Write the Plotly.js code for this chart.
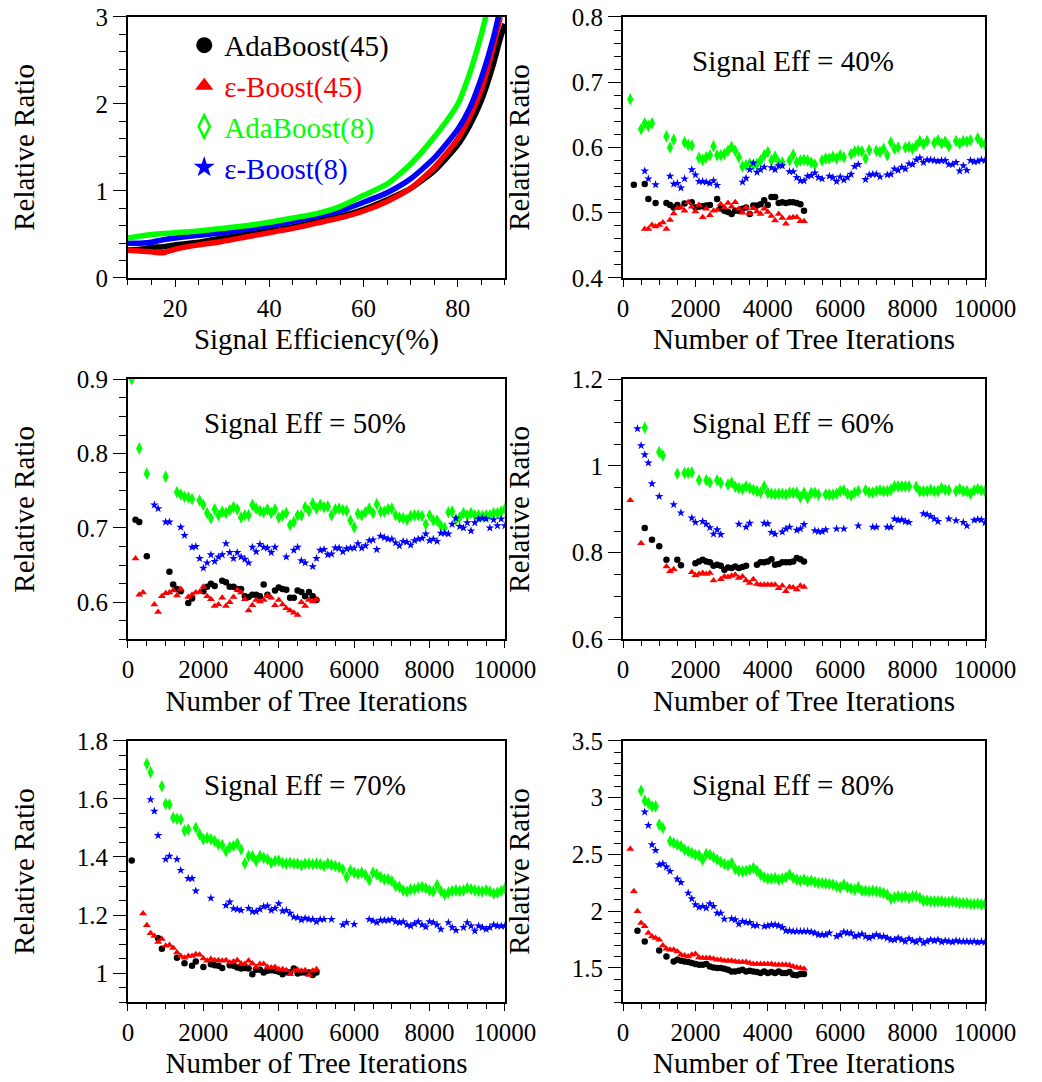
<!DOCTYPE html>
<html>
<head>
<meta charset="utf-8">
<script src="https://cdn.plot.ly/plotly-3.0.1.min.js"></script>
<style>html,body{margin:0;padding:0;background:#fff;}#chart{width:1042px;height:1082px;}</style>
</head>
<body>
<div id="chart"></div>
<script>
// ---------- series names ----------
const seriesNames = ['AdaBoost(45)', 'ε-Boost(45)', 'AdaBoost(8)', 'ε-Boost(8)'];
const panelLabels = ['Signal Eff = 40%', 'Signal Eff = 50%', 'Signal Eff = 60%', 'Signal Eff = 70%', 'Signal Eff = 80%'];

// ---------- panel 1: relative ratio vs signal efficiency ----------
const p1_ada45_x = [10,12.5,15,17.5,20,25,30,35,40,45,50,55,60,65,70,75,80,82.5,85,87.5,89,90];
const p1_ada45_y = [0.32,0.33,0.35,0.36,0.38,0.41,0.46,0.50,0.54,0.59,0.65,0.71,0.79,0.90,1.03,1.23,1.53,1.75,2.04,2.45,2.75,2.92];
const p1_eps45_x = [10,12.5,15,17.5,20,25,30,35,40,45,50,55,60,65,70,75,80,82.5,85,87.5,89];
const p1_eps45_y = [0.32,0.31,0.30,0.29,0.33,0.38,0.42,0.47,0.52,0.57,0.63,0.69,0.77,0.88,1.03,1.27,1.60,1.85,2.17,2.65,3.0];
const p1_ada8_x = [10,12.5,15,17.5,20,25,30,35,40,45,50,55,60,65,70,75,80,82.5,85,86];
const p1_ada8_y = [0.46,0.48,0.50,0.51,0.52,0.54,0.57,0.60,0.64,0.69,0.74,0.82,0.95,1.08,1.31,1.62,2.0,2.35,2.8,3.02];
const p1_eps8_x = [10,12.5,15,17.5,20,25,30,35,40,45,50,55,60,65,70,75,80,82.5,85,87.5,88.6];
const p1_eps8_y = [0.40,0.40,0.41,0.44,0.46,0.49,0.52,0.56,0.60,0.65,0.71,0.77,0.87,0.98,1.14,1.38,1.71,1.95,2.30,2.75,3.0];

// ---------- panel 2: signal eff = 40% ----------
const p2_ada45_x = [300,600,700,900,1200,1300,1400,1500,1700,1900,2000,2100,2200,2300,2400,2600,2700,2800,2900,3000,3100,3200,3300,3400,3500,3600,3700,3800,3900,4000,4100,4200,4300,4400,4500,4600,4700,4800,4900,5000];
const p2_ada45_y = [0.543,0.544,0.521,0.515,0.515,0.512,0.508,0.512,0.514,0.516,0.508,0.509,0.510,0.511,0.512,0.521,0.507,0.503,0.501,0.498,0.503,0.503,0.506,0.508,0.498,0.511,0.511,0.513,0.519,0.512,0.524,0.524,0.515,0.516,0.515,0.516,0.516,0.515,0.513,0.503];
const p2_eps45_x = [600,700,800,900,1000,1100,1200,1300,1400,1500,1600,1700,1800,1900,2000,2100,2200,2300,2400,2500,2600,2700,2800,2900,3000,3100,3200,3300,3400,3500,3600,3700,3800,3900,4000,4100,4200,4300,4400,4500,4600,4700,4800,4900,5000];
const p2_eps45_y = [0.475,0.475,0.481,0.479,0.481,0.485,0.475,0.489,0.499,0.507,0.508,0.503,0.516,0.509,0.502,0.512,0.493,0.506,0.496,0.503,0.504,0.513,0.508,0.515,0.509,0.516,0.506,0.500,0.508,0.499,0.507,0.502,0.498,0.506,0.501,0.495,0.488,0.498,0.492,0.483,0.492,0.493,0.493,0.487,0.487];
const p2_ada8_x = [200,500,600,700,800,1200,1300,1400,1700,1800,1900,2100,2200,2300,2400,2500,2600,2700,2800,2900,3000,3100,3200,3300,3400,3500,3600,3700,3800,3900,4000,4100,4200,4300,4400,4600,4700,4800,4900,5000,5100,5200,5300,5500,5600,5700,5800,5900,6000,6100,6300,6400,6500,6600,6700,6800,7000,7100,7200,7300,7400,7500,7600,7800,7900,8000,8100,8200,8300,8400,8600,8700,8800,8900,9000,9200,9300,9400,9500,9600,9800,9900,10000];
const p2_ada8_y = [0.674,0.628,0.637,0.633,0.637,0.617,0.600,0.612,0.608,0.604,0.603,0.584,0.581,0.585,0.588,0.602,0.588,0.588,0.590,0.595,0.601,0.595,0.585,0.571,0.573,0.575,0.573,0.575,0.580,0.588,0.593,0.580,0.586,0.577,0.577,0.580,0.589,0.577,0.580,0.581,0.580,0.577,0.574,0.580,0.583,0.583,0.586,0.583,0.588,0.585,0.590,0.594,0.595,0.594,0.583,0.596,0.595,0.593,0.598,0.588,0.608,0.598,0.600,0.600,0.601,0.598,0.603,0.610,0.605,0.610,0.607,0.611,0.606,0.609,0.602,0.610,0.606,0.610,0.609,0.611,0.614,0.607,0.605];
const p2_eps8_x = [600,700,900,1300,1400,1500,1600,1700,1900,2000,2100,2200,2300,2400,2500,2600,3300,3400,3500,3600,3700,3800,3900,4100,4200,4300,4400,4600,4700,4800,4900,5000,5100,5200,5300,5400,5500,5700,5800,5900,6000,6100,6200,6300,6400,6500,6700,6800,6900,7000,7100,7300,7400,7500,7600,7700,7800,7900,8000,8100,8200,8300,8400,8500,8600,8700,8800,8900,9000,9100,9200,9300,9400,9500,9600,9700,9800,9900,10000];
const p2_eps8_y = [0.564,0.552,0.543,0.556,0.544,0.545,0.538,0.552,0.566,0.558,0.548,0.548,0.547,0.545,0.549,0.542,0.547,0.553,0.566,0.576,0.562,0.566,0.570,0.569,0.566,0.572,0.572,0.563,0.563,0.554,0.549,0.549,0.556,0.557,0.561,0.554,0.552,0.556,0.554,0.548,0.555,0.550,0.554,0.559,0.571,0.574,0.551,0.558,0.559,0.559,0.555,0.558,0.559,0.567,0.565,0.570,0.567,0.575,0.574,0.581,0.584,0.577,0.581,0.581,0.580,0.579,0.580,0.580,0.574,0.574,0.577,0.564,0.572,0.565,0.580,0.578,0.579,0.581,0.580];

// ---------- panel 3: signal eff = 50% ----------
const p3_ada45_x = [200,300,500,1100,1200,1300,1400,1600,1700,2000,2100,2200,2300,2500,2600,2700,2800,2900,3000,3100,3200,3300,3400,3500,3600,3700,3900,4000,4100,4200,4300,4400,4500,4600,4700,4800,4900,5000];
const p3_ada45_y = [0.711,0.708,0.662,0.641,0.624,0.618,0.615,0.599,0.605,0.615,0.621,0.625,0.622,0.629,0.627,0.621,0.621,0.618,0.618,0.608,0.607,0.610,0.610,0.608,0.624,0.610,0.616,0.620,0.618,0.617,0.606,0.606,0.616,0.614,0.608,0.614,0.608,0.603];
const p3_eps45_x = [200,300,400,700,800,900,1000,1100,1200,1300,1400,1600,1700,1800,1900,2000,2100,2200,2300,2400,2500,2600,2700,2800,2900,3000,3100,3200,3300,3400,3500,3600,3700,3800,3900,4000,4100,4200,4300,4400,4500,4600,4700,4800,4900,5000];
const p3_eps45_y = [0.659,0.610,0.613,0.597,0.587,0.608,0.612,0.613,0.616,0.609,0.618,0.607,0.610,0.613,0.614,0.621,0.608,0.604,0.595,0.597,0.606,0.595,0.600,0.607,0.617,0.613,0.604,0.589,0.596,0.603,0.601,0.603,0.609,0.606,0.596,0.603,0.597,0.592,0.589,0.586,0.583,0.600,0.595,0.603,0.601,0.604];
const p3_ada8_x = [100,300,500,1000,1300,1400,1500,1600,1700,1900,2000,2100,2200,2300,2400,2500,2600,2700,2800,2900,3000,3100,3200,3300,3400,3500,3600,3700,3800,3900,4000,4100,4200,4300,4400,4500,4600,4700,4800,4900,5000,5100,5200,5300,5400,5500,5600,5700,5800,5900,6000,6100,6200,6300,6400,6500,6600,6700,6800,6900,7000,7100,7200,7300,7400,7500,7600,7700,7800,7900,8000,8100,8200,8300,8400,8500,8600,8700,8800,8900,9000,9100,9200,9300,9400,9500,9600,9700,9800,9900,10000];
const p3_ada8_y = [0.900,0.807,0.773,0.769,0.748,0.745,0.742,0.741,0.739,0.737,0.731,0.720,0.713,0.725,0.717,0.722,0.720,0.724,0.728,0.725,0.714,0.717,0.717,0.731,0.726,0.723,0.721,0.725,0.720,0.725,0.714,0.717,0.720,0.704,0.708,0.717,0.717,0.728,0.723,0.733,0.726,0.731,0.728,0.729,0.717,0.725,0.726,0.724,0.723,0.710,0.701,0.719,0.717,0.721,0.726,0.720,0.732,0.722,0.722,0.725,0.726,0.717,0.714,0.713,0.711,0.716,0.717,0.717,0.716,0.705,0.717,0.710,0.710,0.703,0.700,0.721,0.722,0.711,0.714,0.720,0.717,0.720,0.717,0.717,0.716,0.717,0.717,0.720,0.720,0.722,0.726];
const p3_eps8_x = [700,800,1000,1100,1400,1500,1700,1800,1900,2000,2100,2200,2300,2400,2500,2600,2700,2800,2900,3000,3100,3200,3300,3400,3500,3600,3700,3800,3900,4200,4400,4500,4600,4700,4900,5000,5100,5200,5300,5400,5500,5600,5700,5800,5900,6000,6100,6200,6300,6400,6500,6600,6700,6800,6900,7000,7100,7200,7300,7400,7500,7600,7700,7800,7900,8000,8100,8200,8300,8400,8500,8600,8700,8800,8900,9000,9100,9200,9300,9400,9500,9600,9700,9800,9900,10000];
const p3_eps8_y = [0.731,0.726,0.708,0.708,0.701,0.690,0.674,0.675,0.659,0.646,0.653,0.664,0.655,0.661,0.664,0.679,0.667,0.659,0.667,0.661,0.658,0.653,0.674,0.668,0.678,0.674,0.673,0.667,0.674,0.661,0.670,0.674,0.656,0.653,0.648,0.659,0.670,0.671,0.664,0.665,0.673,0.673,0.668,0.672,0.673,0.673,0.679,0.673,0.676,0.683,0.684,0.671,0.689,0.687,0.685,0.685,0.680,0.676,0.682,0.681,0.677,0.683,0.685,0.686,0.692,0.683,0.685,0.682,0.693,0.693,0.692,0.705,0.713,0.702,0.700,0.707,0.696,0.707,0.712,0.713,0.712,0.700,0.711,0.703,0.712,0.703];

// ---------- panel 4: signal eff = 60% ----------
const p4_ada45_x = [600,800,1000,1200,1500,1600,2000,2100,2200,2300,2400,2500,2600,2700,2800,2900,3000,3100,3200,3300,3400,3700,3800,3900,4000,4100,4200,4300,4400,4500,4600,4700,4800,4900,5000];
const p4_ada45_y = [0.857,0.830,0.815,0.784,0.784,0.771,0.776,0.780,0.784,0.780,0.778,0.770,0.772,0.770,0.761,0.766,0.765,0.768,0.765,0.767,0.770,0.772,0.778,0.778,0.780,0.785,0.772,0.774,0.778,0.778,0.778,0.780,0.788,0.785,0.780];
const p4_eps45_x = [200,500,1200,1300,1400,1900,2000,2100,2200,2300,2400,2500,2700,2800,2900,3000,3100,3200,3300,3400,3500,3600,3700,3800,3900,4000,4100,4200,4300,4400,4500,4600,4700,4800,4900,5000];
const p4_eps45_y = [0.921,0.822,0.768,0.757,0.762,0.755,0.748,0.751,0.753,0.751,0.753,0.736,0.739,0.745,0.744,0.747,0.749,0.742,0.745,0.736,0.730,0.739,0.728,0.726,0.726,0.726,0.726,0.726,0.718,0.724,0.711,0.721,0.720,0.715,0.724,0.721];
const p4_ada8_x = [600,1000,1100,1500,1700,1800,1900,2100,2300,2400,2600,2700,2900,3000,3100,3200,3300,3400,3500,3600,3700,3800,3900,4000,4100,4200,4300,4400,4500,4600,4700,4800,4900,5000,5100,5200,5300,5400,5600,5700,5800,5900,6000,6100,6200,6300,6400,6500,6700,6800,6900,7000,7100,7200,7300,7400,7500,7600,7700,7800,7900,8100,8200,8300,8400,8500,8600,8700,8800,8900,9000,9200,9300,9400,9500,9600,9700,9800,9900,10000];
const p4_ada8_y = [1.088,1.032,1.024,0.982,0.984,0.984,0.985,0.967,0.967,0.962,0.967,0.961,0.957,0.962,0.952,0.949,0.947,0.953,0.949,0.945,0.942,0.939,0.953,0.938,0.936,0.935,0.936,0.936,0.934,0.938,0.938,0.939,0.928,0.938,0.926,0.938,0.938,0.934,0.934,0.934,0.934,0.936,0.942,0.944,0.936,0.932,0.939,0.942,0.944,0.939,0.939,0.942,0.944,0.942,0.942,0.945,0.953,0.953,0.953,0.953,0.953,0.952,0.942,0.942,0.942,0.945,0.942,0.942,0.949,0.945,0.944,0.942,0.947,0.942,0.942,0.936,0.944,0.947,0.944,0.942];
const p4_eps8_x = [400,500,600,700,800,1000,1400,1600,1900,2000,2200,2300,2400,2500,2600,2700,3200,3400,3500,3900,4000,4100,4200,4400,4500,4600,4800,4900,5000,5300,5400,5500,5600,5900,6100,6500,6900,7000,7300,7400,7500,7600,7700,7800,7900,8300,8400,8500,8600,8700,9000,9200,9400,9500,9700,9800,9900,10000];
const p4_eps8_y = [1.086,1.047,1.026,1.007,0.959,0.930,0.911,0.892,0.880,0.870,0.872,0.866,0.858,0.843,0.853,0.842,0.866,0.859,0.868,0.868,0.867,0.847,0.843,0.848,0.855,0.859,0.852,0.855,0.865,0.851,0.849,0.849,0.853,0.855,0.855,0.862,0.859,0.859,0.859,0.859,0.878,0.875,0.876,0.872,0.870,0.890,0.888,0.884,0.878,0.872,0.878,0.874,0.870,0.862,0.875,0.877,0.876,0.869];

// ---------- panel 5: signal eff = 70% ----------
const p5_ada45_x = [100,800,900,1300,1500,1700,1800,2000,2200,2300,2400,2500,2700,2800,2900,3000,3100,3200,3300,3400,3500,3600,3700,3800,3900,4000,4100,4200,4300,4400,4500,4600,4700,4800,4900,5000];
const p5_ada45_y = [1.388,1.120,1.084,1.053,1.034,1.025,1.040,1.021,1.030,1.027,1.025,1.017,1.027,1.025,1.019,1.016,1.017,1.016,0.996,1.011,1.011,1.002,1.008,1.010,1.008,1.004,0.996,1.004,1.002,1.016,0.998,1.002,1.002,1.002,0.993,1.002];
const p5_eps45_x = [400,500,600,700,800,900,1000,1100,1200,1300,1400,1500,1600,1700,1800,1900,2000,2100,2200,2300,2400,2500,2600,2700,2800,2900,3000,3100,3200,3300,3400,3500,3600,3700,3800,3900,4000,4100,4200,4300,4400,4500,4600,4700,4800,4900,5000];
const p5_eps45_y = [1.205,1.165,1.137,1.128,1.107,1.117,1.094,1.097,1.086,1.071,1.059,1.053,1.059,1.059,1.065,1.063,1.050,1.042,1.048,1.044,1.044,1.042,1.044,1.036,1.040,1.044,1.033,1.031,1.042,1.033,1.021,1.031,1.031,1.021,1.019,1.021,1.013,1.013,1.010,0.996,1.008,1.011,1.008,1.010,0.993,1.008,1.013];
const p5_ada8_x = [500,600,900,1000,1100,1200,1300,1400,1500,1600,1800,1900,2000,2100,2200,2300,2400,2500,2600,2700,2800,2900,3000,3100,3200,3300,3400,3500,3600,3700,3800,3900,4000,4100,4200,4300,4400,4500,4600,4700,4800,4900,5000,5100,5200,5300,5400,5500,5600,5700,5800,5900,6000,6100,6200,6300,6400,6500,6600,6700,6800,6900,7000,7100,7200,7300,7400,7500,7600,7700,7800,7900,8000,8100,8200,8300,8400,8500,8600,8700,8800,8900,9000,9100,9200,9300,9400,9500,9600,9700,9800,9900,10000];
const p5_ada8_y = [1.721,1.692,1.644,1.583,1.581,1.535,1.532,1.529,1.491,1.495,1.501,1.478,1.461,1.466,1.461,1.455,1.443,1.441,1.420,1.434,1.438,1.446,1.426,1.378,1.403,1.403,1.386,1.403,1.397,1.392,1.380,1.386,1.388,1.380,1.377,1.380,1.377,1.377,1.372,1.377,1.377,1.375,1.377,1.375,1.369,1.377,1.372,1.369,1.365,1.357,1.331,1.354,1.346,1.342,1.346,1.338,1.320,1.346,1.340,1.331,1.323,1.323,1.317,1.300,1.297,1.285,1.281,1.289,1.289,1.294,1.297,1.292,1.285,1.281,1.303,1.283,1.271,1.277,1.283,1.285,1.283,1.285,1.292,1.289,1.285,1.283,1.281,1.285,1.281,1.274,1.277,1.283,1.292];
const p5_eps8_x = [600,700,800,1000,1100,1300,1400,1600,1700,1800,2200,2600,2700,2800,2900,3000,3200,3300,3400,3500,3600,3700,3800,3900,4000,4100,4200,4300,4400,4500,4600,4700,4800,4900,5000,5100,5200,5400,5700,5800,6000,6400,6500,6600,6700,6800,6900,7000,7100,7200,7300,7400,7500,7600,7700,7800,7900,8000,8100,8200,8300,8500,8600,8700,8900,9000,9100,9200,9300,9400,9500,9600,9700,9800,9900,10000];
const p5_eps8_y = [1.598,1.558,1.474,1.392,1.403,1.392,1.354,1.326,1.326,1.283,1.258,1.233,1.245,1.222,1.220,1.216,1.223,1.212,1.212,1.220,1.229,1.231,1.216,1.223,1.239,1.214,1.216,1.206,1.193,1.191,1.183,1.189,1.185,1.185,1.177,1.185,1.185,1.185,1.166,1.174,1.168,1.185,1.180,1.174,1.182,1.182,1.182,1.185,1.177,1.174,1.177,1.166,1.162,1.170,1.177,1.166,1.159,1.177,1.174,1.166,1.151,1.174,1.157,1.147,1.157,1.174,1.162,1.145,1.162,1.157,1.151,1.157,1.166,1.162,1.162,1.162];

// ---------- panel 6: signal eff = 80% ----------
const p6_ada45_x = [400,600,1000,1200,1400,1500,1600,1700,1800,1900,2000,2100,2200,2300,2400,2500,2600,2700,2800,2900,3000,3100,3200,3300,3400,3500,3600,3700,3800,3900,4000,4100,4200,4300,4400,4500,4600,4700,4800,4900,5000];
const p6_ada45_y = [1.828,1.734,1.655,1.602,1.558,1.573,1.564,1.558,1.552,1.543,1.535,1.529,1.529,1.535,1.514,1.505,1.499,1.499,1.494,1.485,1.470,1.470,1.476,1.485,1.470,1.476,1.470,1.464,1.455,1.470,1.455,1.464,1.455,1.470,1.455,1.455,1.464,1.441,1.435,1.447,1.447];
const p6_eps45_x = [200,300,400,500,600,700,800,900,1000,1100,1200,1300,1400,1500,1600,1700,1800,1900,2000,2100,2200,2300,2400,2500,2600,2700,2800,2900,3000,3100,3200,3300,3400,3500,3600,3700,3800,3900,4000,4100,4200,4300,4400,4500,4600,4700,4800,4900,5000];
const p6_eps45_y = [2.548,2.175,1.999,1.896,1.867,1.808,1.778,1.764,1.749,1.699,1.670,1.661,1.661,1.646,1.617,1.611,1.602,1.617,1.623,1.593,1.588,1.588,1.588,1.582,1.573,1.573,1.564,1.564,1.564,1.558,1.552,1.552,1.552,1.543,1.535,1.535,1.535,1.535,1.535,1.535,1.529,1.529,1.529,1.529,1.523,1.514,1.505,1.499,1.494];
const p6_ada8_x = [500,600,700,800,900,1000,1100,1300,1400,1500,1600,1700,1800,1900,2000,2100,2200,2300,2400,2500,2600,2700,2800,2900,3000,3100,3200,3300,3400,3500,3600,3700,3800,3900,4000,4100,4200,4300,4400,4500,4600,4700,4800,4900,5000,5100,5200,5300,5400,5500,5600,5700,5800,5900,6000,6100,6200,6300,6400,6500,6600,6700,6800,6900,7000,7100,7200,7300,7400,7500,7600,7700,7800,7900,8000,8100,8200,8300,8400,8500,8600,8700,8800,8900,9000,9100,9200,9300,9400,9500,9600,9700,9800,9900,10000];
const p6_ada8_y = [3.062,2.974,2.954,2.924,2.924,2.763,2.733,2.616,2.601,2.586,2.572,2.542,2.528,2.513,2.498,2.492,2.454,2.504,2.498,2.475,2.454,2.434,2.416,2.404,2.425,2.372,2.357,2.351,2.357,2.366,2.381,2.357,2.322,2.299,2.287,2.287,2.293,2.278,2.287,2.299,2.322,2.293,2.278,2.269,2.278,2.263,2.269,2.257,2.248,2.248,2.244,2.240,2.234,2.219,2.210,2.234,2.210,2.199,2.190,2.210,2.181,2.181,2.175,2.181,2.175,2.169,2.160,2.146,2.110,2.122,2.131,2.122,2.131,2.116,2.131,2.131,2.116,2.093,2.093,2.087,2.087,2.087,2.087,2.081,2.081,2.087,2.081,2.072,2.072,2.072,2.063,2.063,2.066,2.060,2.063];
const p6_eps8_x = [600,700,800,900,1000,1100,1200,1300,1500,1600,1800,1900,2000,2100,2200,2300,2400,2500,2600,2700,2800,3000,3100,3200,3300,3400,3500,3600,3700,3900,4000,4100,4200,4300,4400,4500,4600,4700,4800,4900,5000,5100,5200,5300,5400,5500,5600,5700,5900,6000,6100,6200,6300,6400,6500,6600,6700,6800,6900,7000,7100,7200,7300,7400,7500,7600,7700,7800,7900,8000,8100,8200,8300,8400,8500,8600,8700,8800,8900,9000,9100,9200,9300,9400,9500,9600,9700,9800,9900,10000];
const p6_eps8_y = [2.874,2.757,2.586,2.536,2.410,2.419,2.390,2.351,2.284,2.254,2.160,2.110,2.058,2.034,2.043,2.028,2.066,2.043,1.984,1.984,1.931,1.934,1.925,1.887,1.911,1.902,1.902,1.875,1.875,1.867,1.872,1.881,1.881,1.872,1.858,1.828,1.828,1.823,1.823,1.823,1.823,1.823,1.817,1.808,1.793,1.793,1.793,1.808,1.778,1.793,1.817,1.808,1.808,1.778,1.787,1.799,1.778,1.764,1.778,1.793,1.778,1.778,1.764,1.749,1.749,1.764,1.749,1.734,1.758,1.740,1.729,1.749,1.720,1.734,1.749,1.740,1.749,1.729,1.740,1.734,1.729,1.740,1.734,1.734,1.734,1.730,1.735,1.725,1.732,1.725];

// ---------- styling ----------
const FONT = 'Liberation Serif';
const COLORS = {ada45: '#000000', eps45: '#ff0000', ada8: '#00ff00', eps8: '#0000ff'};
const MARK = {
  ada45: {symbol: 'circle', size: 6.5},
  eps45: {symbol: 'triangle-up', size: 7},
  ada8:  {symbol: 'diamond-tall', size: 9},
  eps8:  {symbol: 'star', size: 6.5}
};
const KEYS = ['ada45', 'eps45', 'ada8', 'eps8'];

const traces = [];

// panel 1 lines (dense bands)
const p1 = {ada45: [p1_ada45_x, p1_ada45_y], eps45: [p1_eps45_x, p1_eps45_y], ada8: [p1_ada8_x, p1_ada8_y], eps8: [p1_eps8_x, p1_eps8_y]};
['ada45', 'eps45', 'eps8', 'ada8'].forEach(k => {
  traces.push({x: p1[k][0], y: p1[k][1], xaxis: 'x', yaxis: 'y', type: 'scatter', mode: 'lines',
    line: {color: COLORS[k], width: 5.5, shape: 'spline', smoothing: 0.6}, showlegend: false, hoverinfo: 'skip'});
});

const panels = [
  {ax: '2', d: {ada45: [p2_ada45_x, p2_ada45_y], eps45: [p2_eps45_x, p2_eps45_y], ada8: [p2_ada8_x, p2_ada8_y], eps8: [p2_eps8_x, p2_eps8_y]}},
  {ax: '3', d: {ada45: [p3_ada45_x, p3_ada45_y], eps45: [p3_eps45_x, p3_eps45_y], ada8: [p3_ada8_x, p3_ada8_y], eps8: [p3_eps8_x, p3_eps8_y]}},
  {ax: '4', d: {ada45: [p4_ada45_x, p4_ada45_y], eps45: [p4_eps45_x, p4_eps45_y], ada8: [p4_ada8_x, p4_ada8_y], eps8: [p4_eps8_x, p4_eps8_y]}},
  {ax: '5', d: {ada45: [p5_ada45_x, p5_ada45_y], eps45: [p5_eps45_x, p5_eps45_y], ada8: [p5_ada8_x, p5_ada8_y], eps8: [p5_eps8_x, p5_eps8_y]}},
  {ax: '6', d: {ada45: [p6_ada45_x, p6_ada45_y], eps45: [p6_eps45_x, p6_eps45_y], ada8: [p6_ada8_x, p6_ada8_y], eps8: [p6_eps8_x, p6_eps8_y]}}
];
panels.forEach(p => {
  KEYS.forEach(k => {
    traces.push({x: p.d[k][0], y: p.d[k][1], xaxis: 'x' + p.ax, yaxis: 'y' + p.ax, type: 'scatter', mode: 'markers',
      marker: {symbol: MARK[k].symbol, size: MARK[k].size, color: COLORS[k], line: {width: 0}},
      showlegend: false, hoverinfo: 'skip'});
  });
});

// legend entries (symbols only)
const legendSym = {ada45: 'circle', eps45: 'triangle-up', ada8: 'diamond-tall-open', eps8: 'star'};
KEYS.forEach((k, i) => {
  traces.push({x: [null], y: [null], xaxis: 'x', yaxis: 'y', type: 'scatter', mode: 'markers',
    name: '<span style="color:' + COLORS[k] + '">' + seriesNames[i] + '</span>',
    marker: {symbol: legendSym[k], size: 16, color: COLORS[k], line: {color: COLORS[k], width: k === 'ada8' ? 2.5 : 0}},
    showlegend: true, hoverinfo: 'skip'});
});

// ---------- axes ----------
const colX = [[0.1228, 0.4846], [0.5979, 0.9453]];
const rowY = [[0.7431, 0.9843], [0.409, 0.6495], [0.0739, 0.3152]];

function xAxis(dom, range, dtick, minorDtick, title, anchor) {
  return {domain: dom, range: range, anchor: anchor, dtick: dtick, tick0: 0, tickformat: 'd',
    showline: true, linewidth: 2, linecolor: '#000', mirror: true, showgrid: false, zeroline: false,
    ticks: 'outside', ticklen: 7, tickwidth: 1, tickcolor: '#000',
    minor: {dtick: minorDtick, tick0: 0, ticks: 'outside', ticklen: 5, tickwidth: 1, tickcolor: '#000', showgrid: false},
    tickfont: {family: FONT, size: 25, color: '#000'},
    title: {text: title, font: {family: FONT, size: 29, color: '#000'}, standoff: 8},
    automargin: false, fixedrange: true};
}
function yAxis(dom, range, dtick, minorDtick, anchor, standoff) {
  return {domain: dom, range: range, anchor: anchor, dtick: dtick, tick0: 0,
    showline: true, linewidth: 2, linecolor: '#000', mirror: true, showgrid: false, zeroline: false,
    ticks: 'outside', ticklen: 13, tickwidth: 1, tickcolor: '#000',
    minor: {dtick: minorDtick, tick0: 0, ticks: 'outside', ticklen: 7, tickwidth: 1, tickcolor: '#000', showgrid: false},
    tickfont: {family: FONT, size: 25, color: '#000'},
    title: {text: 'Relative Ratio', font: {family: FONT, size: 29, color: '#000'}, standoff: standoff},
    automargin: false, fixedrange: true};
}
const XT = 'Number of Tree Iterations';
const layout = {
  width: 1042, height: 1082,
  margin: {l: 0, r: 0, t: 0, b: 0},
  paper_bgcolor: '#fff', plot_bgcolor: '#fff',
  font: {family: FONT, color: '#000'},
  showlegend: true,
  legend: {x: 0.1768, y: 0.9817, xanchor: 'left', yanchor: 'top', bgcolor: 'rgba(0,0,0,0)',
    font: {family: FONT, size: 29}, itemsizing: 'trace', tracegroupgap: 0},
  xaxis:  xAxis(colX[0], [10, 90], 20, 5, 'Signal Efficiency(%)', 'y'),
  yaxis:  yAxis(rowY[0], [0, 3], 1, 0.2, 'x', 52),
  xaxis2: xAxis(colX[1], [0, 10000], 2000, 500, XT, 'y2'),
  yaxis2: yAxis(rowY[0], [0.4, 0.8], 0.1, 0.02, 'x2', 34),
  xaxis3: xAxis(colX[0], [0, 10000], 2000, 500, XT, 'y3'),
  yaxis3: yAxis(rowY[1], [0.55, 0.9], 0.1, 0.025, 'x3', 34),
  xaxis4: xAxis(colX[1], [0, 10000], 2000, 500, XT, 'y4'),
  yaxis4: yAxis(rowY[1], [0.6, 1.2], 0.2, 0.05, 'x4', 34),
  xaxis5: xAxis(colX[0], [0, 10000], 2000, 500, XT, 'y5'),
  yaxis5: yAxis(rowY[2], [0.9, 1.8], 0.2, 0.05, 'x5', 34),
  xaxis6: xAxis(colX[1], [0, 10000], 2000, 500, XT, 'y6'),
  yaxis6: yAxis(rowY[2], [1.2, 3.5], 0.5, 0.1, 'x6', 34),
  annotations: ['2', '3', '4', '5', '6'].map((a, i) => ({
    xref: 'x' + a + ' domain', yref: 'y' + a + ' domain', x: 0.47, y: 0.833,
    xanchor: 'center', yanchor: 'middle', showarrow: false, text: panelLabels[i],
    font: {family: FONT, size: 29, color: '#000'}}))
};

Plotly.newPlot('chart', traces, layout, {staticPlot: true, displayModeBar: false});
</script>
</body>
</html>
